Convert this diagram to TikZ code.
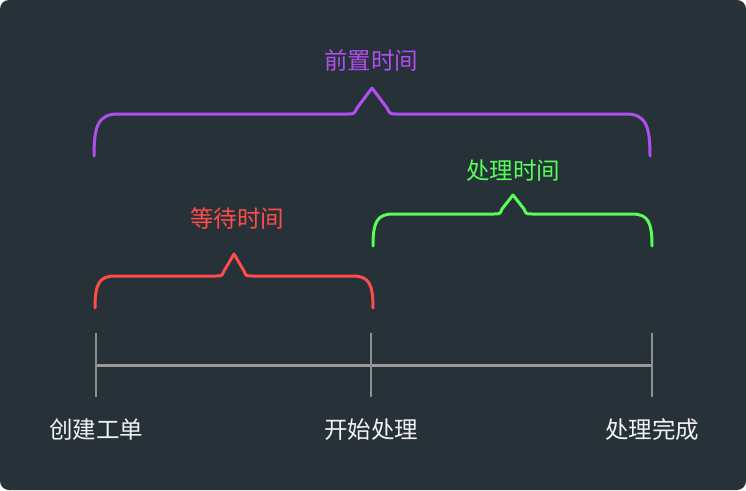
\documentclass[tikz,border=0pt]{standalone}
\usepackage{fontspec}
\setmainfont{Noto Sans CJK SC}
\begin{document}
\begin{tikzpicture}[x=1pt,y=-1pt,
  brace/.style={line width=3pt, line cap=round, line join=round},
  tick/.style={draw=tickgray, line width=2.6pt},
  lbl/.style={font=\fontsize{23.5}{26}\selectfont, inner sep=0pt},
]
\definecolor{bg}{HTML}{263238}
\definecolor{tickgray}{HTML}{8E8E8E}
\definecolor{linegray}{HTML}{9A9A9A}
\definecolor{bpurple}{HTML}{B04EF0}
\definecolor{bgreen}{HTML}{55FF55}
\definecolor{bred}{HTML}{FF4B4B}
\definecolor{txt}{HTML}{F2F2F2}
\fill[white] (0,0) rectangle (746,490);
\fill[bg, rounded corners=9pt] (0,0) rectangle (746,490);
\useasboundingbox (0,0) rectangle (746,490);

% timeline
\coordinate (t0) at (96,365);
\coordinate (t1) at (371,365);
\coordinate (t2) at (652,365);
\draw[draw=linegray, line width=3pt] (t0) -- (t2);
\draw[tick] (96,333) -- (96,397);
\draw[tick] (371,333) -- (371,397);
\draw[tick] (652,333) -- (652,397);

\node[lbl, text=txt] (a) at (96,430) {创建工单};
\node[lbl, text=txt] (b) at (371,430) {开始处理};
\node[lbl, text=txt] (c) at (652,430) {处理完成};

% purple brace
\draw[brace, bpurple] (94,156) .. controls (94,126) and (98,114) .. (118,114)
  -- (348,114) .. controls (354,114) .. (357,108) -- (372,88) -- (387,108)
  .. controls (390,114) .. (396,114) -- (626,114)
  .. controls (646,114) and (650,126) .. (650,156);
\node[lbl, text=bpurple] (p) at (371,61) {前置时间};

% green brace
\draw[brace, bgreen] (373,246) .. controls (373,222) and (377,214) .. (393,214)
  -- (494,214) .. controls (500,214) .. (502,209) -- (513,195) -- (524,209)
  .. controls (526,214) .. (532,214) -- (632,214)
  .. controls (648,214) and (652,222) .. (652,246);
\node[lbl, text=bgreen] (g) at (513,171) {处理时间};

% red brace
\draw[brace, bred] (95,308) .. controls (95,284) and (99,276) .. (115,276)
  -- (216,276) .. controls (222,276) .. (224,271) -- (234,254) -- (244,271)
  .. controls (246,276) .. (252,276) -- (353,276)
  .. controls (369,276) and (373,284) .. (373,308);
\node[lbl, text=bred] (r) at (237,219) {等待时间};
\end{tikzpicture}
\end{document}
